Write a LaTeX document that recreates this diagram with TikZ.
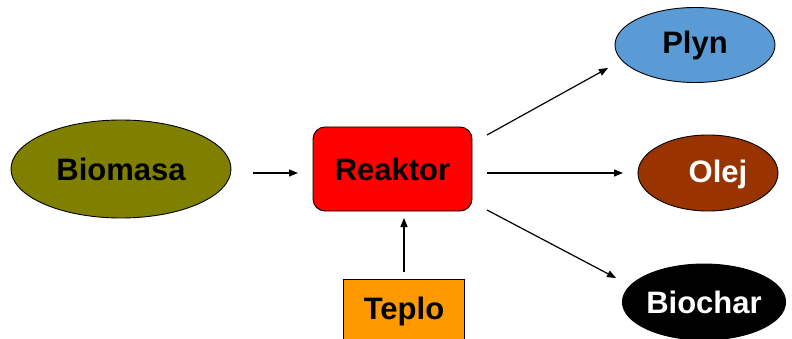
\documentclass[tikz,border=0pt]{standalone}
\usepackage{fontspec}
\setmainfont{Liberation Sans}
\usetikzlibrary{shapes.geometric,arrows.meta}
\definecolor{olivebio}{HTML}{808000}
\definecolor{reactred}{HTML}{FF0000}
\definecolor{heatorange}{HTML}{FF9900}
\definecolor{gasblue}{HTML}{5B9BD5}
\definecolor{oilbrown}{HTML}{993300}
\begin{document}
\begin{tikzpicture}[x=1pt,y=-1pt,
  lbl/.style={font=\fontsize{31}{31}\selectfont\bfseries, inner sep=0pt},
  oval/.style={ellipse, draw=black, line width=0.9pt, lbl},
  flow/.style={-{Triangle[length=9pt,width=7pt]}, line width=1.2pt, black}]
  \useasboundingbox (0,0) rectangle (792,339);

  % feedstock, reactor and heat input
  \node[oval, fill=olivebio, minimum width=220pt, minimum height=98pt] (bio) at (121,169) {Biomasa};
  \node[lbl, draw=black, line width=0.9pt, fill=reactred, rounded corners=12pt,
        minimum width=159pt, minimum height=84pt] (rea) at (392.5,169) {Reaktor};
  \node[lbl, draw=black, line width=0.9pt, fill=heatorange, anchor=north west,
        minimum width=121pt, minimum height=66pt] (tep) at (343,279) {};
  \node[lbl] (teptxt) at (404,311) {Teplo};

  % products
  \node[oval, fill=gasblue, minimum width=160pt, minimum height=75pt] (ply) at (695,45) {Plyn};
  \node[oval, fill=oilbrown, minimum width=140pt, minimum height=76pt] (ole) at (708,173) {};
  \node[lbl, text=white] (oletxt) at (718,174) {Olej};
  \node[oval, fill=black, text=white, minimum width=162pt, minimum height=76pt] (bch) at (704,302) {Biochar};

  % arrow end points
  \coordinate (b1) at (253,173);  \coordinate (b2) at (298,173);
  \coordinate (t1) at (404,272);  \coordinate (t2) at (404,218);
  \coordinate (p1) at (487,135);  \coordinate (p2) at (608,68);
  \coordinate (o1) at (487,173);  \coordinate (o2) at (623,173);
  \coordinate (c1) at (487,210);  \coordinate (c2) at (616,278);

  \draw[flow] (b1) -- (b2);
  \draw[flow] (t1) -- (t2);
  \draw[flow] (p1) -- (p2);
  \draw[flow] (o1) -- (o2);
  \draw[flow] (c1) -- (c2);
\end{tikzpicture}
\end{document}
